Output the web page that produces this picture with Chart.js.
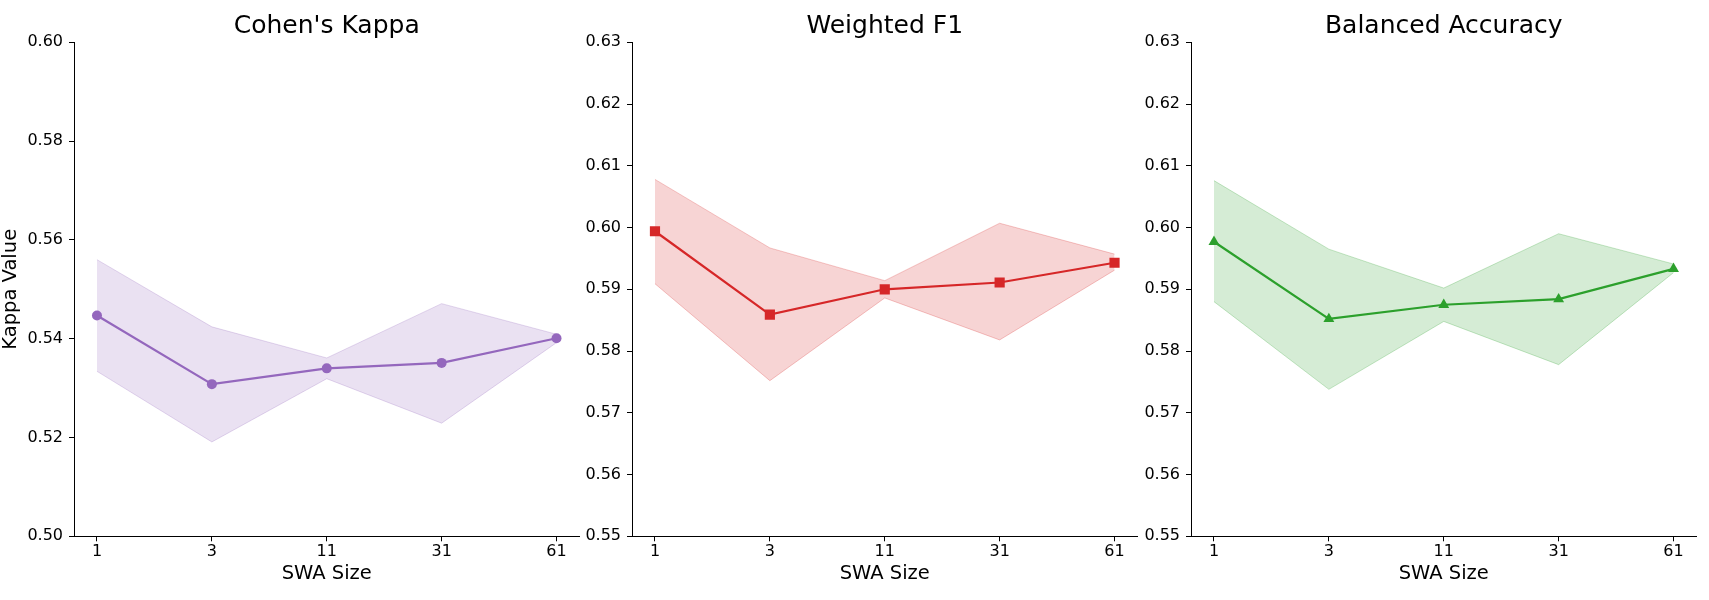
<!DOCTYPE html>
<html>
<head>
<meta charset="utf-8">
<script src="https://cdn.jsdelivr.net/npm/chart.js@4"></script>
<style>
  html, body { margin: 0; padding: 0; background: #fff; overflow: hidden; }
  #wrap { position: relative; width: 1709px; height: 600px; }
  #wrap canvas { position: absolute; top: 0; }
</style>
</head>
<body>
<div id="wrap">
  <canvas id="kappaChart" width="592" height="600" style="left:0px"></canvas>
  <canvas id="f1Chart" width="592" height="600" style="left:558px"></canvas>
  <canvas id="baccChart" width="592" height="600" style="left:1117px"></canvas>
</div>
<script>
const swaSizes = ['1', '3', '11', '31', '61'];

const kappaMean  = [0.5447, 0.5308, 0.5340, 0.5351, 0.5401];
const kappaUpper = [0.5560, 0.5424, 0.5361, 0.5471, 0.5409];
const kappaLower = [0.5334, 0.5191, 0.5319, 0.5229, 0.5392];

const f1Mean  = [0.5994, 0.5859, 0.5900, 0.5911, 0.5943];
const f1Upper = [0.6078, 0.5967, 0.5914, 0.6007, 0.5957];
const f1Lower = [0.5909, 0.5752, 0.5886, 0.5818, 0.5931];

const baccMean  = [0.5977, 0.5852, 0.5875, 0.5884, 0.5933];
const baccUpper = [0.6076, 0.5965, 0.5902, 0.5990, 0.5941];
const baccLower = [0.5880, 0.5738, 0.5848, 0.5778, 0.5927];

const kappaTicks = [0.50, 0.52, 0.54, 0.56, 0.58, 0.60];
const scoreTicks = [0.55, 0.56, 0.57, 0.58, 0.59, 0.60, 0.61, 0.62, 0.63];

const FONT = 'DejaVu Sans';
Chart.defaults.font.family = FONT;
Chart.defaults.color = '#000';

const toPoints = arr => arr.map((v, i) => ({ x: i, y: v }));

function makeChart(id, opts) {
  const ctx = document.getElementById(id).getContext('2d');
  return new Chart(ctx, {
    type: 'line',
    data: {
      datasets: [
        {
          data: toPoints(opts.mean),
          borderColor: opts.color,
          backgroundColor: opts.color,
          borderWidth: 2.2,
          pointStyle: opts.marker,
          pointRadius: opts.radius,
          pointBorderWidth: 0,
          fill: false
        },
        {
          data: toPoints(opts.upper),
          borderColor: opts.edge,
          backgroundColor: opts.band,
          borderWidth: 1,
          pointRadius: 0,
          fill: '+1'
        },
        {
          data: toPoints(opts.lower),
          borderColor: opts.edge,
          borderWidth: 1,
          pointRadius: 0,
          fill: false
        }
      ]
    },
    options: {
      responsive: false,
      animation: false,
      layout: { padding: { left: 0, right: 12.5, top: 0, bottom: 0 } },
      plugins: {
        legend: { display: false },
        tooltip: { enabled: false },
        title: {
          display: true,
          text: opts.title,
          fullSize: false,
          color: '#000',
          font: { family: FONT, size: 25, weight: 'normal' },
          padding: { top: 11, bottom: 1.3 }
        }
      },
      scales: {
        x: {
          type: 'linear',
          min: -0.2,
          max: 4.2,
          afterBuildTicks: s => { s.ticks = swaSizes.map((_, i) => ({ value: i })); },
          afterFit: s => { s.height = 63.7; },
          ticks: {
            callback: v => swaSizes[v],
            font: { family: FONT, size: 16 },
            color: '#000',
            padding: 1,
            maxRotation: 0,
            autoSkip: false
          },
          grid: { display: true, drawOnChartArea: false, drawTicks: true, tickLength: 5, color: '#000', tickWidth: 1 },
          border: { display: true, color: '#000', width: 1 },
          title: {
            display: true,
            text: 'SWA Size',
            color: '#000',
            font: { family: FONT, size: 19.5 },
            padding: { top: 0, bottom: 14 }
          }
        },
        y: {
          min: opts.ticks[0],
          max: opts.ticks[opts.ticks.length - 1],
          afterBuildTicks: s => { s.ticks = opts.ticks.map(v => ({ value: v })); },
          afterFit: s => { s.width = 74; },
          ticks: {
            callback: v => v.toFixed(2),
            font: { family: FONT, size: 16 },
            color: '#000',
            padding: 6
          },
          grid: { display: true, drawOnChartArea: false, drawTicks: true, tickLength: 5, color: '#000', tickWidth: 1 },
          border: { display: true, color: '#000', width: 1 },
          title: {
            display: !!opts.yTitle,
            text: opts.yTitle || '',
            color: '#000',
            font: { family: FONT, size: 19.5, lineHeight: 1.1 },
            padding: 0
          }
        }
      }
    }
  });
}

makeChart('kappaChart', {
  title: "Cohen's Kappa",
  yTitle: 'Kappa Value',
  mean: kappaMean, upper: kappaUpper, lower: kappaLower,
  ticks: kappaTicks,
  color: '#9467bd',
  band: 'rgba(148, 103, 189, 0.2)',
  edge: 'rgba(148, 103, 189, 0.25)',
  marker: 'circle',
  radius: 5
});

makeChart('f1Chart', {
  title: 'Weighted F1',
  mean: f1Mean, upper: f1Upper, lower: f1Lower,
  ticks: scoreTicks,
  color: '#d62728',
  band: 'rgba(214, 39, 40, 0.2)',
  edge: 'rgba(214, 39, 40, 0.25)',
  marker: 'rect',
  radius: 7.2
});

makeChart('baccChart', {
  title: 'Balanced Accuracy',
  mean: baccMean, upper: baccUpper, lower: baccLower,
  ticks: scoreTicks,
  color: '#2ca02c',
  band: 'rgba(44, 160, 44, 0.2)',
  edge: 'rgba(44, 160, 44, 0.25)',
  marker: 'triangle',
  radius: 6.3
});
</script>
</body>
</html>
